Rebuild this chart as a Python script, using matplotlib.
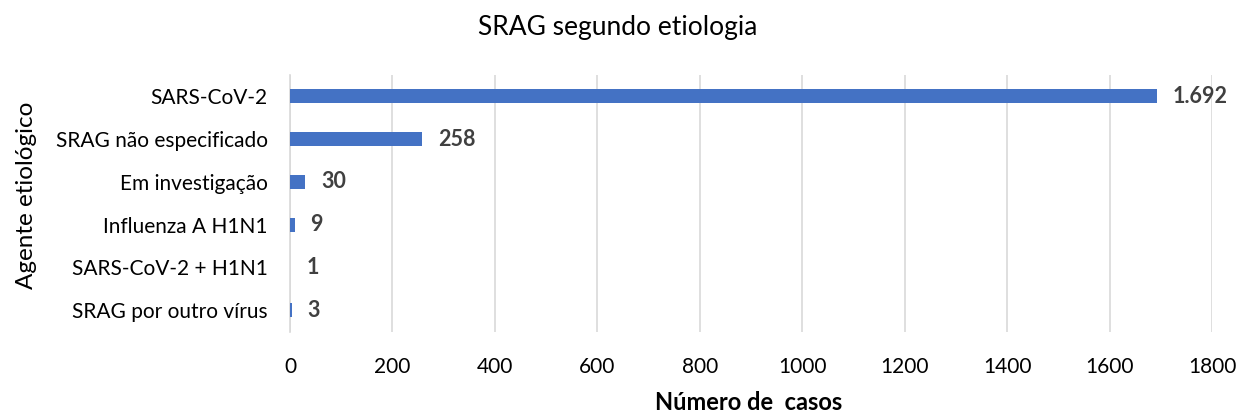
import matplotlib
matplotlib.use("Agg")
import matplotlib.pyplot as plt

categories = ["SARS-CoV-2", "SRAG não especificado", "Em investigação",
              "Influenza A H1N1", "SARS-CoV-2 + H1N1", "SRAG por outro vírus"]
values = [1692, 258, 30, 9, 1, 3]
value_labels = ["1.692", "258", "30", "9", "1", "3"]
xticks = [0, 200, 400, 600, 800, 1000, 1200, 1400, 1600, 1800]

plt.rcParams['font.family'] = ['Lato', 'DejaVu Sans']
txt = "#404040"

fig = plt.figure(figsize=(12.36, 4.12), dpi=100)
ax = fig.add_axes([0.2346, 0.195, 0.7460, 0.623])

ypos = list(range(len(categories)))
ax.barh(ypos, values, height=0.33, color="#4472C4", zorder=3)
for y, v, lab in zip(ypos, values, value_labels):
    ax.annotate(lab, (v, y), xytext=(11.5, 0), textcoords="offset points",
                va="center", ha="left", fontsize=15.5, fontweight="bold", color=txt)

ax.set_ylim(len(categories) - 0.5, -0.5)
ax.set_yticks(ypos)
ax.set_yticklabels(categories, fontsize=15, color="#000000")
ax.set_xlim(0, 1800)
ax.set_xticks(xticks)
ax.set_xticklabels([str(t) for t in xticks], fontsize=15, color="#000000")
ax.tick_params(axis="both", length=0)
ax.tick_params(axis="x", pad=18)
ax.tick_params(axis="y", pad=16)
ax.grid(axis="x", color="#D9D9D9", linewidth=1.2, zorder=0)
for s in ["top", "right", "bottom"]:
    ax.spines[s].set_visible(False)
ax.spines["left"].set_color("#D9D9D9")
ax.spines["left"].set_linewidth(1.2)

fig.text(0.606, 1 - 402 / 412, "Número de  casos", ha="center", va="center",
         fontsize=17, fontweight="bold", color="#000000")
fig.text(27 / 1236, 1 - 195 / 412, "Agente etiológico", ha="center", va="center",
         rotation=90, fontsize=17.5, color="#000000")
fig.text(0.5, 1 - 28 / 412, "SRAG segundo etiologia", ha="center", va="center",
         fontsize=19, color="#000000")

fig.savefig("out.png", dpi=100)
